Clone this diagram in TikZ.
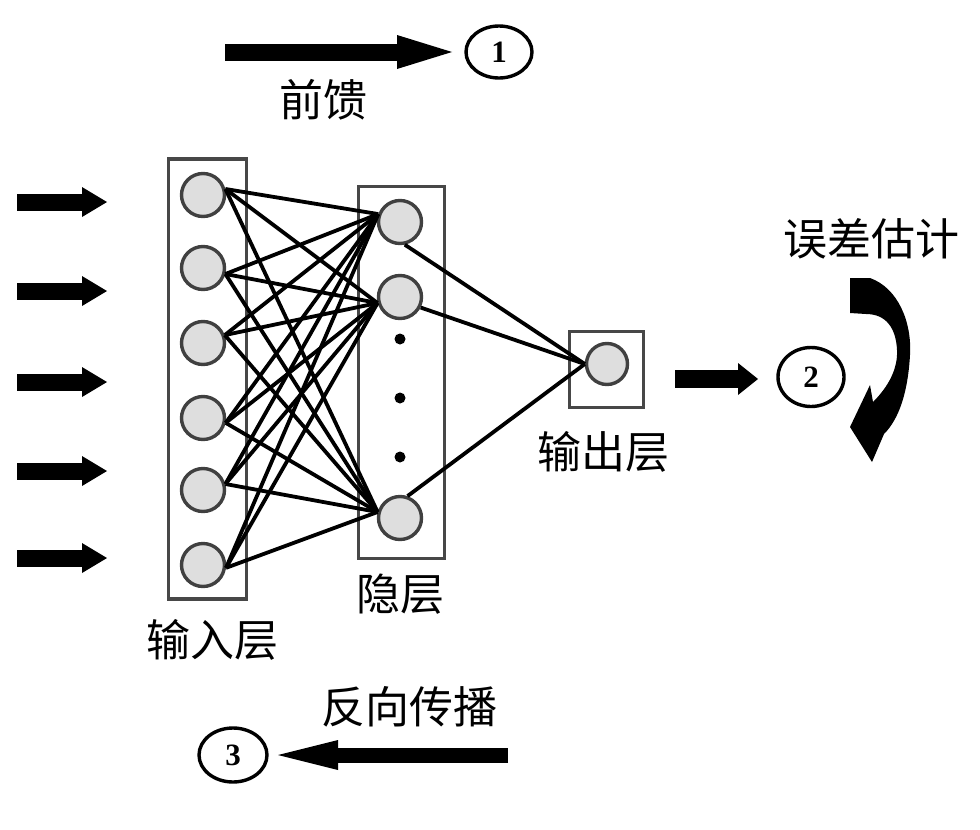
\documentclass[tikz,border=0pt]{standalone}
\usepackage{fontspec}
\newfontfamily\cjk{Noto Sans CJK SC}
\newfontfamily\numfont{Liberation Serif}
\usetikzlibrary{arrows.meta,shapes.geometric}
\begin{document}
\begin{tikzpicture}[x=1pt,y=-1pt,
  neuron/.style={circle,draw=black!75,fill=black!13,line width=3.4pt,minimum size=43pt,inner sep=0pt},
  layerbox/.style={draw=black!72,line width=3.6pt,inner sep=0pt},
  link/.style={line width=3.8pt,black},
  dotnode/.style={circle,fill=black,minimum size=11pt,inner sep=0pt},
  txtlabel/.style={font=\cjk\fontsize{44}{44}\selectfont,inner sep=0pt},
  numcirc/.style={ellipse,draw=black,line width=3.4pt,inner sep=0pt,font=\numfont\bfseries\fontsize{31}{31}\selectfont},
  fatarrow/.style n args={3}{line width=#1,-{Triangle[length=#2,width=#3,line width=0pt]}}
]
\useasboundingbox (0,0) rectangle (980,830);
\fill[white] (0,0) rectangle (980,830);

% boxes
\node[layerbox,minimum width=78pt,minimum height=440pt] (inbox) at (207.5,379) {};
\node[layerbox,minimum width=86pt,minimum height=372pt] (hidbox) at (401.5,372.5) {};
\node[layerbox,minimum width=74pt,minimum height=76pt] (outbox) at (606.5,369.5) {};

% neurons
\foreach \i/\y in {1/195,2/268,3/343,4/418,5/490,6/565}
  \node[neuron] (i\i) at (203,\y) {};
\node[neuron] (h1) at (400,222) {};
\node[neuron] (h2) at (400,297) {};
\node[neuron] (h3) at (400,518) {};
\node[neuron,minimum size=41pt] (o) at (607,364) {};

\node[dotnode] (d1) at (400,339) {};
\node[dotnode] (d2) at (400,398) {};
\node[dotnode] (d3) at (400,457) {};

% links input -> hidden
\foreach \i/\a in {1/15,2/-15,3/20,4/-12,5/15,6/-7}{
  \draw[link] (i\i.\a) -- (h1.160);
  \draw[link] (i\i.\a) -- (h2.195);
  \draw[link] (i\i.\a) -- (h3.165);
}
% hidden -> output
\draw[link] (h1.-78) -- (o.west);
\draw[link] (h2.-27) -- (o.west);
\draw[link] (h3.71) -- (o.west);

% labels
\node[txtlabel] (lff) at (323,100) {前馈};
\node[txtlabel] (lerr) at (871,239) {误差估计};
\node[txtlabel] (lout) at (603,452) {输出层};
\node[txtlabel] (lhid) at (400,594) {隐层};
\node[txtlabel] (lin) at (212,640) {输入层};
\node[txtlabel] (lbp) at (409,707) {反向传播};

% numbered circles
\node[numcirc,minimum width=66pt,minimum height=52pt] (c1) at (499,52) {1};
\node[numcirc,minimum width=66pt,minimum height=59pt] (c2) at (811,377) {2};
\node[numcirc,minimum width=68pt,minimum height=54pt] (c3) at (233,755) {3};

% input arrows
\foreach \k/\y in {1/202,2/291,3/382,4/471,5/558}{
  \coordinate (as\k) at (17,\y);
  \coordinate (ae\k) at (107,\y);
  \draw[fatarrow={17pt}{25pt}{30pt}] (as\k) -- (ae\k);
}

% feed-forward arrow
\coordinate (ffs) at (225,52);
\coordinate (ffe) at (452,52);
\draw[fatarrow={17pt}{55pt}{34pt}] (ffs) -- (ffe);

% output arrow
\coordinate (oas) at (675,379);
\coordinate (oae) at (758,379);
\draw[fatarrow={18pt}{20pt}{32pt}] (oas) -- (oae);

% back-propagation arrow
\coordinate (bps) at (508,755);
\coordinate (bpe) at (278,755);
\draw[fatarrow={15pt}{60pt}{30pt}] (bps) -- (bpe);

% curved error arrow
\fill (850,278) -- (870,278) .. controls (898,288) and (912,322) .. (910,355)
  .. controls (908,390) and (900,418) .. (884,434) -- (872,462) -- (850,427) -- (870,385)
  -- (873,402) .. controls (889,386) and (898,368) .. (897,350)
  .. controls (896,328) and (886,314) .. (866,314) -- (850,313) -- cycle;
\end{tikzpicture}
\end{document}
